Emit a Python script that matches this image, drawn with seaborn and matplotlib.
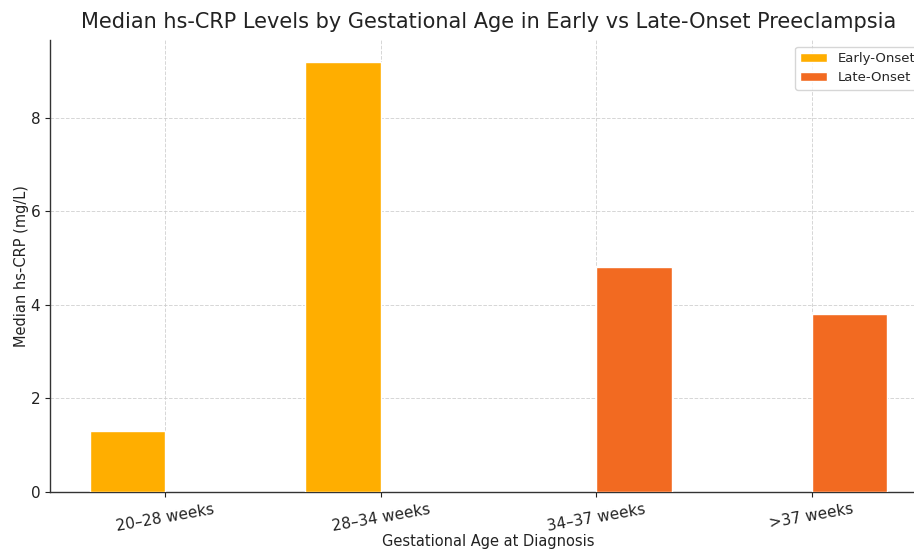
import matplotlib
matplotlib.use("Agg")
import matplotlib.pyplot as plt
import seaborn as sns
import pandas as pd

# Median hs-CRP by gestational age window and onset group
categories = ["20–28 weeks", "28–34 weeks", "34–37 weeks", ">37 weeks"]
early_onset = [1.3, 9.2, None, None]
late_onset = [None, None, 4.8, 3.8]
groups = ["Early-Onset", "Late-Onset"]
colors = {"Early-Onset": "#FFAE00", "Late-Onset": "#F26A21"}

rows = []
for cat, e, l in zip(categories, early_onset, late_onset):
    if e is not None:
        rows.append({"age": cat, "group": "Early-Onset", "crp": e})
    if l is not None:
        rows.append({"age": cat, "group": "Late-Onset", "crp": l})
df = pd.DataFrame(rows)

sns.set_style("white")
plt.rcParams["font.family"] = ["DejaVu Sans"]

fig = plt.figure(figsize=(9.14, 5.5), dpi=100)
ax = fig.add_axes([50 / 914, 58 / 550, 877 / 914, 452 / 550])

sns.barplot(data=df, x="age", y="crp", hue="group", order=categories,
            hue_order=groups, palette=colors, width=0.7, dodge=True,
            saturation=1, ax=ax, zorder=3)

ax.set_xlim(-0.535, 3.535)
ax.set_ylim(0, 9.66)
ax.set_yticks([0, 2, 4, 6, 8])
ax.grid(True, linestyle="--", color="#cccccc", linewidth=0.7, alpha=0.8, zorder=0)
ax.set_axisbelow(True)

for side in ["top", "right"]:
    ax.spines[side].set_visible(False)
for side in ["left", "bottom"]:
    ax.spines[side].set_color("#333333")
    ax.spines[side].set_linewidth(1.0)

ax.tick_params(axis="both", labelsize=11, colors="#222222")
ax.tick_params(axis="y", length=3.5, width=0.8, left=True)
ax.tick_params(axis="x", length=3.5, width=0.8, bottom=True)
plt.setp(ax.get_xticklabels(), rotation=10, ha="center")

ax.set_title("Median hs-CRP Levels by Gestational Age in Early vs Late-Onset Preeclampsia",
             fontsize=15, color="#222222", pad=9)
ax.set_xlabel("Gestational Age at Diagnosis", fontsize=10.5, color="#222222", labelpad=0)
ax.set_ylabel("Median hs-CRP (mg/L)", fontsize=10.5, color="#222222", labelpad=1)

leg = ax.legend(loc="upper right", fontsize=9.5, frameon=True, title=None)
leg.get_frame().set_edgecolor("#cccccc")

fig.savefig("out.png", dpi=100)
